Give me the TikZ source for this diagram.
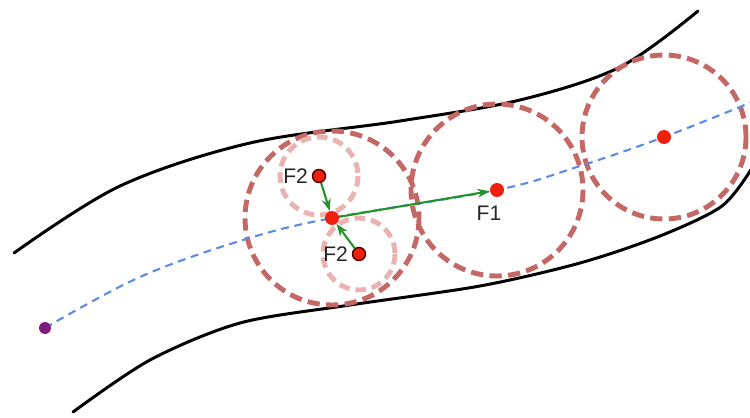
\documentclass[tikz,border=0pt]{standalone}
\usepackage{fontspec}
\setmainfont{Liberation Sans}
\usepackage{xcolor}
\usetikzlibrary{arrows.meta}

\definecolor{ringred}{RGB}{196,104,102}
\definecolor{ringpale}{RGB}{234,178,176}
\definecolor{pathblue}{RGB}{92,140,228}
\definecolor{forcegreen}{RGB}{38,146,44}
\definecolor{dotred}{RGB}{240,32,12}
\definecolor{dotpurple}{RGB}{128,28,128}

\begin{document}
\begin{tikzpicture}[
        x=0.02cm, y=-0.02cm,
        font=\fontsize{12}{14}\selectfont,
        wall/.style={line width=1.7pt, black, line cap=round},
        ring/.style={draw=ringred, line width=2.8pt, dash pattern=on 7pt off 3.6pt},
        smallring/.style={draw=ringpale, line width=2.8pt, dash pattern=on 6pt off 3.4pt},
        route/.style={pathblue, line width=1.2pt, dash pattern=on 4.5pt off 3.2pt},
        force/.style={-{Stealth[length=7pt, width=5pt]}, forcegreen, line width=1.2pt},
        dot/.style={circle, fill=dotred, inner sep=0pt, minimum size=0.28cm},
        pdot/.style={circle, fill=dotred, draw=black!70!red, line width=0.8pt, inner sep=0pt, minimum size=0.26cm},
        lbl/.style={text=black!85, inner sep=1pt}
    ]
    \useasboundingbox (0,0) rectangle (750,418);

    \coordinate (p1) at (332,218);
    \coordinate (p2) at (497,190);
    \coordinate (p3) at (664,137);
    \coordinate (q1) at (319,176);
    \coordinate (q2) at (359,254);

    % walls of the channel
    \draw[wall] plot[smooth, tension=0.55] coordinates {(14,253) (120,186) (250,143) (400,121) (520,100) (620,67) (698,11)};
    \draw[wall] plot[smooth, tension=0.5] coordinates {(73,412) (150,360) (240,323) (350,305) (480,286) (580,263) (660,236) (722,206) (752,168)};

    % bubbles
    \draw[ring] (p1) circle (87);
    \draw[ring] (p2) circle (86);
    \draw[ring] (p3) circle (82);
    \draw[smallring] (q1) circle (39);
    \draw[smallring] (q2) circle (36);

    % path
    \draw[route] plot[smooth, tension=0.6] coordinates {(45,328) (140,277) (243,240) (332,218) (497,190) (577,167) (664,137) (752,102)};

    \node[circle, fill=dotpurple, inner sep=0pt, minimum size=0.24cm] (start) at (45,328) {};
    \node[dot]  (c1) at (p1) {};
    \node[dot]  (c2) at (p2) {};
    \node[dot]  (c3) at (p3) {};
    \node[pdot] (f2a) at (q1) {};
    \node[pdot] (f2b) at (q2) {};

    \draw[force] (c1) -- (c2);
    \draw[force] (f2a) -- (c1);
    \draw[force] (f2b) -- (c1);

    \node[lbl, left=1pt] at (f2a.west) {F2};
    \node[lbl, left=1pt] at (f2b.west) {F2};
    \node[lbl] at (489,213) {F1};
\end{tikzpicture}
\end{document}
